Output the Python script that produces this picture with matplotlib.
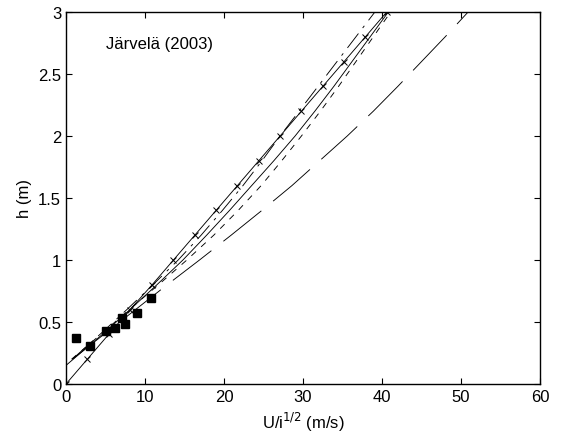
import matplotlib
matplotlib.use("Agg")
import matplotlib.pyplot as plt

plt.rcParams['font.family'] = ['Liberation Sans', 'DejaVu Sans']
plt.rcParams['lines.scale_dashes'] = False

# Mesures (carrés noirs)
mes_x = [1.3, 3.0, 5.0, 6.2, 7.1, 7.5, 9.0, 10.7]
mes_h = [0.37, 0.31, 0.43, 0.45, 0.53, 0.48, 0.57, 0.69]

# Courbe pleine avec croix
h_a = [0.0, 0.2, 0.4, 0.6, 0.8, 1.0, 1.2, 1.4, 1.6, 1.8, 2.0, 2.2, 2.4, 2.6, 2.8, 3.0]
x_a = [0.0, 2.7, 5.4, 8.1, 10.9, 13.6, 16.3, 19.0, 21.7, 24.4, 27.1, 29.8, 32.5, 35.2, 37.9, 40.6]

# Courbe pleine sans marqueur
h_b = [0.15, 0.4, 0.6, 0.8, 1.0, 1.2, 1.4, 1.6, 1.8, 2.0, 2.2, 2.4, 2.6, 2.8, 3.0]
x_b = [0.0, 4.6, 8.1, 11.5, 14.8, 17.8, 20.7, 23.5, 26.3, 29.0, 31.5, 33.9, 36.2, 38.5, 40.8]

# Tirets courts
h_c = [0.2, 0.4, 0.6, 0.8, 1.0, 1.2, 1.4, 1.6, 1.8, 2.0, 2.2, 2.4, 2.6, 2.8, 3.0]
x_c = [0.7, 4.4, 8.0, 11.7, 15.3, 18.7, 21.8, 24.7, 27.3, 29.8, 32.2, 34.5, 36.7, 38.9, 41.1]

# Tiret-point
h_d = [0.2, 0.4, 0.6, 0.8, 1.0, 1.2, 1.4, 1.6, 1.8, 2.0, 2.2, 2.4, 2.6, 2.8, 3.0]
x_d = [0.8, 4.3, 7.7, 11.0, 14.2, 17.1, 19.8, 22.4, 24.8, 27.1, 29.5, 31.9, 34.3, 36.7, 39.1]

# Tirets longs
h_e = [0.2, 0.4, 0.6, 0.8, 1.0, 1.2, 1.4, 1.6, 1.8, 2.0, 2.2, 2.4, 2.6, 2.8, 3.0]
x_e = [0.8, 4.8, 8.8, 12.8, 16.9, 20.9, 24.8, 28.6, 32.1, 35.6, 38.9, 42.0, 45.0, 48.0, 50.9]

xticks = [0, 10, 20, 30, 40, 50, 60]
yticks = [0, 0.5, 1, 1.5, 2, 2.5, 3]
yticklabels = ['0', '0.5', '1', '1.5', '2', '2.5', '3']

fig = plt.figure(figsize=(5.65, 4.39), dpi=100)
ax = fig.add_axes([66 / 565, 1 - 385 / 439, 474 / 565, 372 / 439])

lw = 0.65
ax.plot(x_a, h_a, '-', color='k', lw=lw, marker='x', ms=4, mew=0.7)
ax.plot(x_b, h_b, '-', color='k', lw=lw)
ax.plot(x_c, h_c, color='k', lw=lw, dashes=(4.5, 5))
ax.plot(x_d, h_d, color='k', lw=lw, dashes=(13, 5, 2, 5))
ax.plot(x_e, h_e, color='k', lw=lw, dashes=(35, 11))
ax.plot(mes_x, mes_h, 's', color='k', ms=6, zorder=5)

ax.text(5.1, 2.75, 'Järvelä (2003)', fontsize=12, va='center', ha='left')

ax.set_xlim(0, 60)
ax.set_ylim(0, 3)
ax.set_xticks(xticks)
ax.set_yticks(yticks)
ax.set_yticklabels(yticklabels)
ax.tick_params(direction='in', top=True, right=True, length=4, width=0.8, labelsize=12)
for s in ax.spines.values():
    s.set_linewidth(1.0)

ax.set_xlabel(r'U/i$^{1/2}$ (m/s)', fontsize=12)
ax.set_ylabel('h (m)', fontsize=12)

fig.savefig('out.png', dpi=100)
